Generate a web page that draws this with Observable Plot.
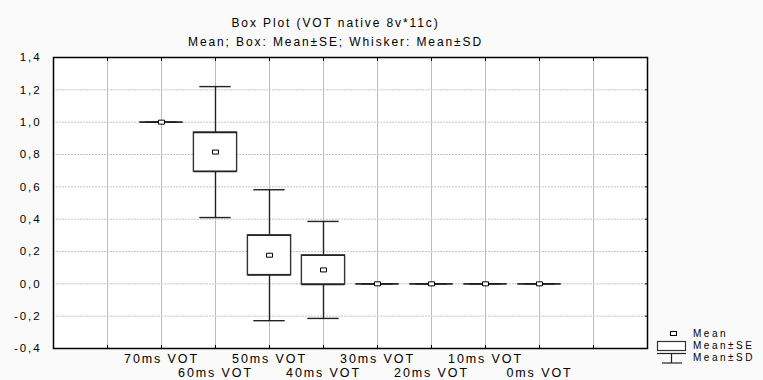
<!DOCTYPE html>
<html>
<head>
<meta charset="utf-8">
<script src="https://cdn.jsdelivr.net/npm/d3@7"></script>
<script src="https://cdn.jsdelivr.net/npm/@observablehq/plot@0.6"></script>
<style>
  html, body { margin: 0; padding: 0; background: #fafafa; }
  #chart { width: 763px; height: 380px; }
</style>
</head>
<body>
<div id="chart"></div>
<script>
const categories = ["70ms VOT", "60ms VOT", "50ms VOT", "40ms VOT", "30ms VOT", "20ms VOT", "10ms VOT", "0ms VOT"];
const positions = [2, 3, 4, 5, 6, 7, 8, 9];
const means = [1.0, 0.815, 0.177, 0.086, 0, 0, 0, 0];
const seValues = [0, 0.121, 0.123, 0.090, 0, 0, 0, 0];
const sdValues = [0, 0.405, 0.405, 0.300, 0, 0, 0, 0];
const yTicks = [-0.4, -0.2, 0, 0.2, 0.4, 0.6, 0.8, 1.0, 1.2, 1.4];
const xGrid = [1, 2, 3, 4, 5, 6, 7, 8, 9, 10];
const titleText = "Box Plot (VOT native 8v*11c)";
const subtitleText = "Mean; Box: Mean±SE; Whisker: Mean±SD";
const legendLabels = ["Mean", "Mean±SE", "Mean±SD"];

const rows = categories.map((c, i) => ({cat: c, pos: positions[i], mean: means[i], se: seValues[i], sd: sdValues[i]}));
const labelAt = p => categories[positions.indexOf(p)];
const fmt = d => d.toFixed(1).replace(".", ",");

const BOX = 0.4, CAP = 0.29;
const meanSymbol = { draw(ctx) { ctx.rect(-3, -2, 6, 4); } };
const FONT = "'Liberation Sans', Arial, sans-serif";

const chart = Plot.plot({
  width: 763,
  height: 380,
  marginLeft: 53,
  marginRight: 116,
  marginTop: 57,
  marginBottom: 32,
  style: { background: "#fafafa", fontFamily: FONT, fontSize: "11px", color: "black", letterSpacing: "1.9px" },
  x: { domain: [0, 11] },
  y: { domain: [-0.4, 1.4] },
  marks: [
    Plot.frame({ fill: "white" }),
    Plot.gridX(xGrid, { stroke: "#bdbdbd", strokeOpacity: 1 }),
    Plot.gridY(yTicks, { stroke: "#c4c4c4", strokeOpacity: 1, strokeDasharray: "2,1" }),
    Plot.axisY({ ticks: yTicks, tickSize: 0, tickPadding: 12, tickFormat: fmt, label: null, fontSize: 11.5 }),
    Plot.axisX({ ticks: [2, 4, 6, 8], tickSize: 0, tickPadding: 6, tickFormat: labelAt, label: null, fontSize: 12.5 }),
    Plot.axisX({ ticks: [3, 5, 7, 9], tickSize: 0, tickPadding: 19.5, tickFormat: labelAt, label: null, fontSize: 12.5 }),
    Plot.axisX({ ticks: xGrid, anchor: "bottom", tickSize: -3, tickFormat: () => "", label: null }),
    Plot.axisX({ ticks: xGrid, anchor: "top", tickSize: -3, tickFormat: () => "", label: null }),
    Plot.axisY({ ticks: yTicks, anchor: "right", tickSize: -3, tickFormat: () => "", label: null }),
    Plot.ruleX(rows, { x: "pos", y1: d => d.mean - d.sd, y2: d => d.mean + d.sd, stroke: "#222", strokeWidth: 1.4 }),
    Plot.ruleY(rows, { y: d => d.mean + d.sd, x1: d => d.pos - CAP, x2: d => d.pos + CAP, stroke: "#222", strokeWidth: 1.4 }),
    Plot.ruleY(rows, { y: d => d.mean - d.sd, x1: d => d.pos - CAP, x2: d => d.pos + CAP, stroke: "#222", strokeWidth: 1.4 }),
    Plot.rect(rows, { x1: d => d.pos - BOX, x2: d => d.pos + BOX, y1: d => d.mean - d.se, y2: d => d.mean + d.se, fill: "white", stroke: "#333", strokeWidth: 1.4 }),
    Plot.ruleY(rows, { y: d => d.mean + d.se, x1: d => d.pos - BOX, x2: d => d.pos + BOX, stroke: "#222", strokeWidth: 1.4 }),
    Plot.ruleY(rows, { y: d => d.mean - d.se, x1: d => d.pos - BOX, x2: d => d.pos + BOX, stroke: "#222", strokeWidth: 1.4 }),
    Plot.dot(rows, { x: "pos", y: "mean", symbol: meanSymbol, r: 3, fill: "white", stroke: "black", strokeWidth: 1 }),
    Plot.frame({ stroke: "black", strokeWidth: 1.5 }),
    Plot.text([titleText], { text: d => d, frameAnchor: "top", dx: -15, dy: -34, lineAnchor: "middle", fontSize: 12, fill: "black" }),
    Plot.text([subtitleText], { text: d => d, frameAnchor: "top", dx: -15, dy: -15, lineAnchor: "middle", fontSize: 12, fill: "black" })
  ]
});

document.getElementById("chart").appendChild(chart);

// Legend (drawn to the right of the frame)
const svg = d3.select(chart);
const lg = svg.append("g")
  .attr("font-family", FONT).attr("font-size", 10).attr("fill", "black")
  .attr("text-anchor", "start").style("letter-spacing", "2.5px");
lg.append("rect").attr("x", 670.5).attr("y", 331.5).attr("width", 6).attr("height", 4).attr("fill", "white").attr("stroke", "black");
lg.append("rect").attr("x", 657.5).attr("y", 341.5).attr("width", 28).attr("height", 9).attr("fill", "white").attr("stroke", "#333").attr("stroke-width", 1.2);
lg.append("line").attr("x1", 657).attr("x2", 686).attr("y1", 353.5).attr("y2", 353.5).attr("stroke", "#222").attr("stroke-width", 1.2);
lg.append("line").attr("x1", 671.5).attr("x2", 671.5).attr("y1", 353.5).attr("y2", 363).attr("stroke", "#222").attr("stroke-width", 1.2);
lg.append("line").attr("x1", 662).attr("x2", 682).attr("y1", 363).attr("y2", 363).attr("stroke", "#222").attr("stroke-width", 1.2);
const legendY = [333, 345, 357];
legendLabels.forEach((t, i) => {
  lg.append("text").attr("x", 693).attr("y", legendY[i]).attr("dy", "0.35em").text(t);
});
</script>
</body>
</html>
